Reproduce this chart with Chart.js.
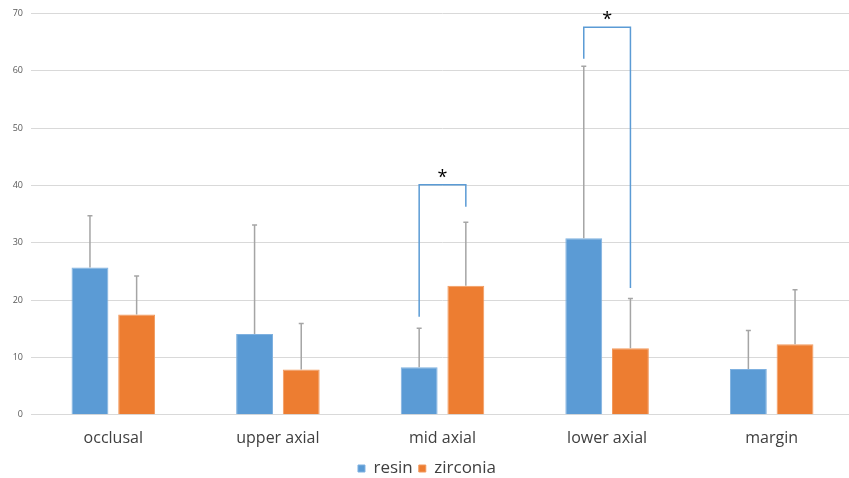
<!DOCTYPE html>
<html>
<head>
<meta charset="utf-8">
<script src="https://cdn.jsdelivr.net/npm/chart.js@4/dist/chart.umd.min.js"></script>
<style>
  html, body { margin: 0; padding: 0; background: #fff; overflow: hidden; }
  #wrap { position: relative; width: 854px; height: 487px; }
</style>
</head>
<body>
<div id="wrap"><canvas id="c"></canvas></div>
<script>
// Region labels along the x axis
const regions = ['occlusal', 'upper axial', 'mid axial', 'lower axial', 'margin'];
// Mean values per region
const resinMean = [25.7, 14.1, 8.3, 30.8, 8.0];
const zirconiaMean = [17.5, 7.9, 22.5, 11.6, 12.3];
// Standard deviations (drawn upward only)
const resinSD = [9.0, 19.0, 6.8, 30.0, 6.7];
const zirconiaSD = [6.7, 8.0, 11.1, 8.7, 9.5];
// Significance brackets: region index, top, left leg end, right leg end
const bracketRegion = [2, 3];
const bracketTop = [40.1, 67.6];
const bracketLeftEnd = [17.1, 62.1];
const bracketRightEnd = [36.3, 22.1];
// Y axis ticks
const yTicks = [0, 10, 20, 30, 40, 50, 60, 70];

const FONT = '"Open Sans", "Noto Sans", sans-serif';

const errorBars = {
  id: 'errorBars',
  afterDatasetsDraw(chart) {
    const ctx = chart.ctx;
    const y = chart.scales.y;
    const sds = [resinSD, zirconiaSD];
    const means = [resinMean, zirconiaMean];
    ctx.save();
    ctx.strokeStyle = '#a5a5a5';
    ctx.lineWidth = 1.5;
    for (let d = 0; d < 2; d++) {
      const meta = chart.getDatasetMeta(d);
      meta.data.forEach((bar, i) => {
        const x = bar.x;
        const y0 = y.getPixelForValue(means[d][i]);
        const y1 = y.getPixelForValue(means[d][i] + sds[d][i]);
        ctx.beginPath();
        ctx.moveTo(x, y0);
        ctx.lineTo(x, y1);
        ctx.moveTo(x - 2.5, y1);
        ctx.lineTo(x + 2.5, y1);
        ctx.stroke();
      });
    }
    // significance brackets
    ctx.strokeStyle = '#5b9bd5';
    ctx.lineWidth = 1.5;
    ctx.fillStyle = '#000';
    ctx.font = '18px ' + FONT;
    ctx.textAlign = 'center';
    ctx.textBaseline = 'alphabetic';
    bracketRegion.forEach((r, k) => {
      const xl = chart.getDatasetMeta(0).data[r].x;
      const xr = chart.getDatasetMeta(1).data[r].x;
      const yt = y.getPixelForValue(bracketTop[k]);
      ctx.beginPath();
      ctx.moveTo(xl, y.getPixelForValue(bracketLeftEnd[k]));
      ctx.lineTo(xl, yt);
      ctx.lineTo(xr, yt);
      ctx.lineTo(xr, y.getPixelForValue(bracketRightEnd[k]));
      ctx.stroke();
      ctx.fillText('*', (xl + xr) / 2, yt - 2);
    });
    ctx.restore();
  }
};

new Chart(document.getElementById('c'), {
  type: 'bar',
  data: {
    labels: regions,
    datasets: [
      { label: 'resin', data: resinMean, backgroundColor: '#5b9bd5', borderColor: '#7fb1e0', borderWidth: 1 },
      { label: 'zirconia', data: zirconiaMean, backgroundColor: '#ed7d31', borderColor: '#f29a5e', borderWidth: 1 }
    ]
  },
  options: {
    responsive: true,
    maintainAspectRatio: false,
    animation: false,
    datasets: { bar: { categoryPercentage: 0.567, barPercentage: 0.79 } },
    layout: { padding: { top: 5, right: 0, bottom: 0, left: 0 } },
    plugins: {
      tooltip: { enabled: false },
      legend: {
        position: 'bottom',
        labels: {
          font: { family: FONT, size: 17 },
          color: '#404040',
          boxWidth: 7,
          boxHeight: 7,
          padding: 6
        }
      }
    },
    scales: {
      x: {
        grid: { display: false },
        border: { color: '#d9d9d9' },
        ticks: { font: { family: FONT, size: 16 }, color: '#404040', padding: 6 }
      },
      y: {
        min: 0,
        max: 70,
        afterBuildTicks(s) { s.ticks = yTicks.map(v => ({ value: v })); },
        afterFit(s) { s.width = 31; },
        grid: { color: '#d9d9d9', drawTicks: false },
        border: { display: false },
        ticks: { font: { family: FONT, size: 9 }, color: '#595959', padding: 8 }
      }
    }
  },
  plugins: [errorBars]
});
</script>
</body>
</html>
